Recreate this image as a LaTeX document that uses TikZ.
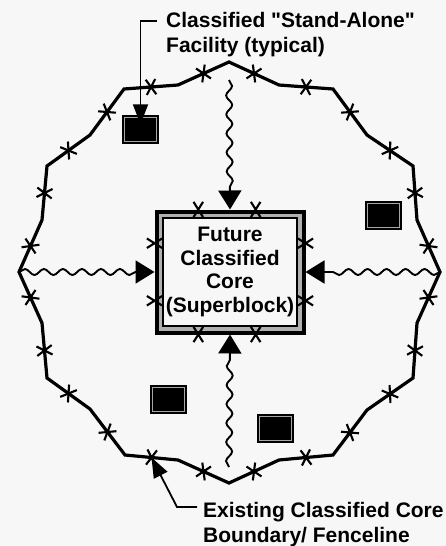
\documentclass[tikz,border=0pt]{standalone}
\usepackage{fontspec}
\setmainfont{Liberation Sans}[Ligatures=TeXOff]
\usetikzlibrary{arrows.meta,calc,decorations.pathmorphing}
\definecolor{pageBg}{HTML}{F7F7F7}
\definecolor{bandGray}{HTML}{B0B0B0}
\tikzset{
  fence/.style={line width=3.2pt, line join=miter},
  markline/.style={line width=2.1pt},
  wavy/.style={line width=1.9pt, decorate,
               decoration={snake, amplitude=3pt, segment length=19pt, post length=19pt}},
  bigtip/.style={-{Triangle[length=19pt,width=23pt]}},
  leader/.style={line width=1.8pt, -{Triangle[length=20pt,width=15pt]}},
  notetext/.style={font=\fontsize{21}{24.5}\selectfont\bfseries, align=left, inner sep=0pt},
  facility/.style={fill=black, minimum width=37pt, minimum height=29pt, inner sep=0pt,
    path picture={\draw[gray!70, line width=0.6pt]
      ([shift={(2.5pt,-2.5pt)}]path picture bounding box.north west) rectangle
      ([shift={(-2.5pt,2.5pt)}]path picture bounding box.south east);}},
  corebox/.style={draw, line width=4pt, fill=bandGray, minimum width=147pt,
    minimum height=121pt, inner sep=0pt, align=center,
    font=\fontsize{21}{23.4}\selectfont\bfseries,
    path picture={\draw[fill=pageBg, line width=1.4pt]
      ([shift={(6.5pt,-6.5pt)}]path picture bounding box.north west) rectangle
      ([shift={(-6.5pt,6.5pt)}]path picture bounding box.south east);}}
}
% barbed wire mark across an edge
\newcommand\fmark[2]{\draw[markline] ($(#1)!9pt!58:(#2)$) -- ($(#1)!9pt!238:(#2)$)
  ($(#1)!9pt!-58:(#2)$) -- ($(#1)!9pt!122:(#2)$);}

\begin{document}
\begin{tikzpicture}[x=1pt, y=-1pt]
  \fill[pageBg] (0,0) rectangle (446,546);
  \useasboundingbox (0,0) rectangle (446,546);

  % fenceline vertices, clockwise from the top
  \foreach \x/\y [count=\k] in {229/62,279/85,333/89,367/135,413/166,417/220,
      440/272,417/323,413/378,367/410,333/455,279/460,229/483,178/460,
      125/455,90/409,47/378,42/323,19/272,42/220,47/166,90/135,124/89,178/85}
    \coordinate (v\k) at (\x,\y);
  \draw[fence] (v1) \foreach \k in {2,...,24}{-- (v\k)} -- cycle;
  \foreach \i [evaluate=\i as \j using {int(mod(\i,24)+1)}] in {1,...,24}{
    \coordinate (m\i) at ($(v\i)!0.5!(v\j)$);
    \fmark{m\i}{v\j}
  }

  \node[corebox] (core) at (230,272) {Future\\Classified\\Core\\(Superblock)};
  \foreach \s/\t/\f in {north west/north east/0.29, north west/north east/0.67,
      south west/south east/0.29, south west/south east/0.67,
      north west/south west/0.27, north west/south west/0.73,
      north east/south east/0.27, north east/south east/0.73}{
    \coordinate (cm) at ($(core.\s)!\f!(core.\t)$);
    \fmark{cm}{core.\t}
  }

  \node[facility] (fac1) at (140.5,129) {};
  \node[facility] (fac2) at (383.5,215) {};
  \node[facility] (fac3) at (168.5,399.5) {};
  \node[facility] (fac4) at (275.5,428.5) {};

  \coordinate (wt) at (229,80);
  \coordinate (wb) at (229,467);
  \draw[wavy, bigtip] (wt) -- (core.north);
  \draw[wavy, bigtip] (wb) -- (core.south);
  \draw[wavy, bigtip] (v19) -- (core.west);
  \draw[wavy, bigtip] (v7) -- (core.east);

  \node[notetext, anchor=north west] (toplabel) at (166,12.5)
    {Classified "Stand-Alone"\\Facility (typical)};
  \node[notetext, anchor=north west] (botlabel) at (203,502.5)
    {Existing Classified Core\\Boundary/ Fenceline};
  \draw[leader] ($(toplabel.north west)+(-9,8.5)$) -| ([yshift=-10pt]fac1.north);
  \draw[leader] ($(botlabel.north west)+(-6,4.5)$) -- ++(-20,0) -- (m14);
\end{tikzpicture}
\end{document}
